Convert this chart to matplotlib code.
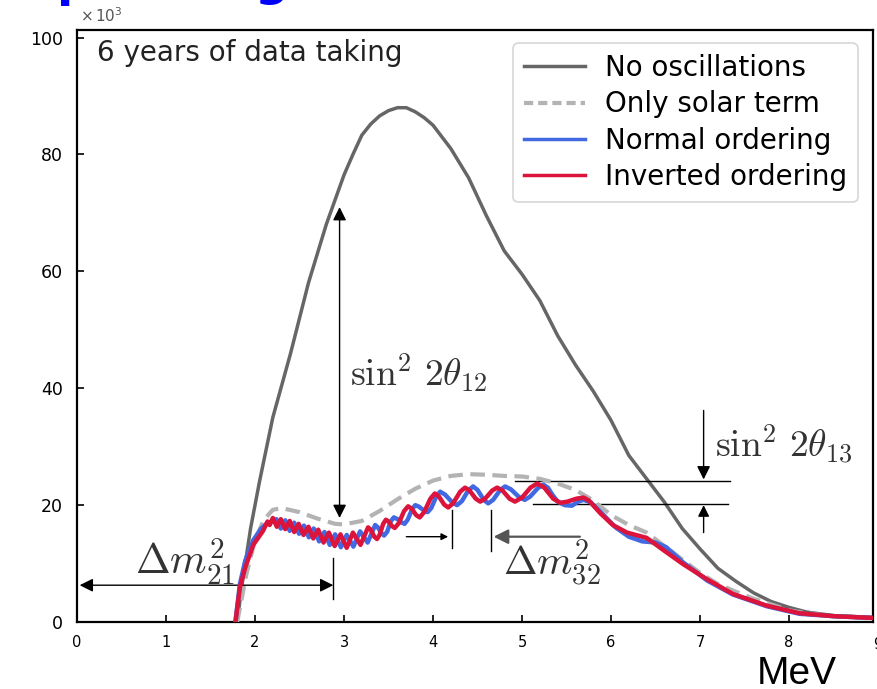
import matplotlib
matplotlib.use("Agg")
import matplotlib.pyplot as plt
from matplotlib.lines import Line2D

# reactor antineutrino spectrum, counts in units of 10^3 per energy bin
energy_noosc = [1.80, 1.85, 1.95, 2.05, 2.2, 2.4, 2.6, 2.8, 3.0, 3.1, 3.2, 3.3, 3.4, 3.5,
                3.6, 3.7, 3.8, 3.9, 4.0, 4.2, 4.4, 4.6, 4.8, 5.0, 5.2, 5.4, 5.6, 5.8,
                6.0, 6.2, 6.4, 6.6, 6.8, 7.0, 7.2, 7.4, 7.6, 7.8, 8.0, 8.2, 8.5, 8.94]
counts_noosc = [0.0, 6.0, 16.0, 24.0, 35.0, 46.0, 58.0, 68.0, 76.5, 80.0, 83.3, 85.2, 86.6, 87.5,
                88.0, 88.0, 87.3, 86.3, 85.0, 81.0, 76.0, 69.5, 63.5, 59.5, 55.0, 49.0, 44.0, 39.5,
                34.5, 28.5, 24.5, 20.5, 16.0, 12.5, 9.2, 7.0, 5.0, 3.5, 2.5, 1.7, 1.1, 0.8]

energy_solar = [1.80, 1.90, 2.0, 2.1, 2.2, 2.3, 2.5, 2.7, 2.9, 3.0, 3.2, 3.4, 3.6, 3.8,
                4.0, 4.2, 4.4, 4.6, 4.8, 5.0, 5.2, 5.4, 5.6, 5.8, 6.0, 6.2, 6.4, 6.6,
                6.8, 7.0, 7.2, 7.4, 7.6, 7.8, 8.0, 8.2, 8.5, 8.94]
counts_solar = [0.0, 8.0, 14.0, 17.5, 19.2, 19.5, 18.8, 17.7, 16.8, 16.7, 17.3, 19.0, 21.0, 22.8,
                24.2, 25.0, 25.3, 25.2, 25.0, 24.9, 24.5, 23.7, 22.6, 20.8, 18.3, 16.6, 15.3, 13.0,
                10.7, 8.4, 6.5, 5.2, 4.0, 3.0, 2.0, 1.5, 1.0, 0.6]

energy_normal = [1.78, 1.83, 1.89, 1.98, 2.07, 2.13, 2.19,
                 2.24, 2.29, 2.34, 2.39, 2.44, 2.495, 2.55, 2.605, 2.66, 2.72,
                 2.78, 2.84, 2.90, 2.965, 3.03, 3.105, 3.18, 3.265, 3.35, 3.38, 3.42,
                 3.45, 3.485, 3.525, 3.56, 3.595, 3.645, 3.68, 3.715, 3.765, 3.80, 3.84,
                 3.90, 3.94, 3.98, 4.04, 4.08, 4.135, 4.215, 4.27, 4.325, 4.395, 4.45,
                 4.50, 4.57, 4.62, 4.675, 4.755, 4.81, 4.875, 4.965, 5.03, 5.09, 5.18,
                 5.24, 5.29, 5.34, 5.40, 5.48, 5.56, 5.63, 5.69, 5.77, 5.91, 6.05, 6.2,
                 6.35, 6.5, 6.62, 6.81, 7.08, 7.37, 7.75, 8.12, 8.5, 8.94]
counts_normal = [0.0, 6.5, 10.5, 14.0, 16.0, 16.8, 17.2,
                 17.6, 16.0, 17.4, 15.6, 17.0, 15.1, 16.5, 14.5, 16.0, 13.8,
                 15.4, 13.2, 15.0, 12.8, 14.9, 12.9, 15.5, 13.6, 16.6, 16.2, 15.2,
                 14.8, 15.45, 17.25, 17.9, 17.65, 17.05, 16.8, 17.5, 19.3, 20.0, 19.75,
                 19.05, 18.8, 19.5, 21.6, 22.3, 21.8, 20.5, 20.0, 20.7, 22.5, 23.2,
                 22.6, 20.9, 20.3, 20.9, 22.6, 23.2, 22.7, 21.4, 20.9, 21.45, 22.95,
                 23.5, 23.0, 21.8, 20.6, 20.0, 19.9, 20.6, 20.9, 20.5, 18.4, 16.2, 14.6,
                 13.8, 13.6, 12.8, 10.2, 7.1, 4.7, 2.7, 1.4, 1.0, 0.7]

energy_inverted = [1.78, 1.83, 1.89, 1.98, 2.09, 2.14, 2.165,
                   2.20, 2.245, 2.29, 2.34, 2.39, 2.44, 2.49, 2.545, 2.60, 2.655,
                   2.71, 2.77, 2.83, 2.895, 2.96, 3.03, 3.10, 3.185, 3.27, 3.30, 3.34,
                   3.37, 3.40, 3.44, 3.47, 3.50, 3.54, 3.57, 3.615, 3.675, 3.72, 3.76,
                   3.81, 3.85, 3.90, 3.97, 4.02, 4.065, 4.125, 4.17, 4.225, 4.305, 4.36,
                   4.41, 4.48, 4.53, 4.585, 4.665, 4.72, 4.78, 4.86, 4.92, 5.00, 5.095,
                   5.17, 5.25, 5.35, 5.43, 5.51, 5.61, 5.69, 5.75, 5.88, 6.02, 6.18,
                   6.4, 6.58, 6.81, 7.08, 7.37, 7.75, 8.12, 8.5, 8.94]
counts_inverted = [0.0, 5.9, 9.3, 13.2, 15.6, 17.2, 16.6,
                   17.8, 16.3, 17.6, 15.9, 17.3, 15.4, 16.8, 14.9, 16.3, 14.3,
                   15.8, 13.6, 15.3, 13.0, 15.0, 12.7, 15.3, 13.2, 16.2, 15.8, 14.6,
                   14.2, 14.9, 16.8, 17.5, 17.2, 16.4, 16.1, 16.9, 19.0, 19.8, 19.4,
                   18.3, 17.9, 18.8, 21.1, 22.0, 21.5, 20.1, 19.6, 20.3, 22.3, 23.0,
                   22.5, 21.1, 20.6, 21.1, 22.5, 23.0, 22.5, 21.1, 20.6, 21.3, 23.0,
                   23.7, 23.0, 21.1, 20.4, 20.6, 21.1, 21.3, 20.8, 18.6, 16.6, 15.3,
                   14.4, 12.4, 9.9, 7.3, 4.8, 2.8, 1.5, 1.0, 0.7]

x_ticks = [0, 1, 2, 3, 4, 5, 6, 7, 8]
y_ticks = [0, 20, 40, 60, 80, 100]

plt.rcParams["mathtext.fontset"] = "cm"
plt.rcParams["font.family"] = "DejaVu Sans"

fig = plt.figure(figsize=(8.78, 6.89), dpi=100)
ax = fig.add_axes([0.0877, 0.0972, 0.9063, 0.8593])

c_noosc = "#666666"
c_solar = "#b3b3b3"
c_normal = "#4169e1"
c_inverted = "#dc143c"

ax.plot(energy_noosc, counts_noosc, color=c_noosc, lw=2.5, zorder=2)
ax.plot(energy_solar, counts_solar, color=c_solar, lw=3, dashes=(3.5, 1.8), zorder=3)
ax.plot(energy_normal, counts_normal, color=c_normal, lw=3.2, zorder=4,
        solid_joinstyle="round")
ax.plot(energy_inverted, counts_inverted, color=c_inverted, lw=3.2, zorder=5,
        solid_joinstyle="round")

ax.set_xlim(0, 8.94)
ax.set_ylim(0, 101.3)
ax.set_xticks(x_ticks)
ax.set_yticks(y_ticks)
ax.tick_params(direction="in", length=5, width=1.2, top=False, right=False)
ax.tick_params(axis="x", labelsize=10.5, pad=9)
ax.tick_params(axis="y", labelsize=12.5, pad=10)
for sp in ax.spines.values():
    sp.set_linewidth(1.6)
ax.text(9, -0.025, "9", transform=ax.get_xaxis_transform(), ha="center", va="top",
        fontsize=10.5, clip_on=False)

# offset label and unit
ax.text(0.004, 1.008, r"$\times\,10^{3}$", transform=ax.transAxes, fontsize=11,
        color="#555555", ha="left", va="bottom", math_fontfamily="dejavusans")
fig.text(0.908, 5 / 689, "MeV", fontsize=28, ha="center", va="baseline",
         family="Liberation Sans")

ax.text(0.025, 0.961, "6 years of data taking", transform=ax.transAxes,
        fontsize=20, color="#222222", ha="left", va="center")

handles = [Line2D([], [], color=c_noosc, lw=2.5),
           Line2D([], [], color=c_solar, lw=3, dashes=(2.2, 1.2)),
           Line2D([], [], color=c_normal, lw=2.5),
           Line2D([], [], color=c_inverted, lw=2.5)]
labels = ["No oscillations", "Only solar term", "Normal ordering", "Inverted ordering"]
leg = ax.legend(handles, labels, loc="upper right", bbox_to_anchor=(0.9815, 0.978),
                borderaxespad=0, fontsize=20, handlelength=2.2, handletextpad=0.7,
                labelspacing=0.3, frameon=True, fancybox=True, borderpad=0.4)
leg.get_frame().set_edgecolor("#cccccc")
leg.get_frame().set_linewidth(1.2)

txt_c = "#333333"
head = dict(color="black", lw=1.0, shrinkA=0, shrinkB=0)

# delta m^2_21
ax.annotate("", xy=(0.03, 6.3), xytext=(2.88, 6.3),
            arrowprops=dict(arrowstyle="<|-|>", mutation_scale=20, **head))
ax.plot([2.88, 2.88], [4.0, 11.0], color="black", lw=1.0)
ax.text(1.22, 10.3, r"$\Delta m^2_{21}$", fontsize=30, color=txt_c,
        ha="center", va="center")

# sin^2 2theta_12
ax.annotate("", xy=(2.95, 71.0), xytext=(2.95, 17.8),
            arrowprops=dict(arrowstyle="<|-|>", mutation_scale=20, **head))
ax.text(3.07, 42.5, r"$\sin^2\,2\theta_{12}$", fontsize=27, color=txt_c,
        ha="left", va="center")

# sin^2 2theta_13
ax.plot([4.92, 7.34], [24.2, 24.2], color="black", lw=1.0)
ax.plot([5.12, 7.31], [20.2, 20.2], color="black", lw=1.0)
ax.annotate("", xy=(7.04, 24.4), xytext=(7.04, 36.2),
            arrowprops=dict(arrowstyle="-|>", mutation_scale=20, **head))
ax.annotate("", xy=(7.04, 20.0), xytext=(7.04, 15.3),
            arrowprops=dict(arrowstyle="-|>", mutation_scale=17, **head))
ax.text(7.17, 30.3, r"$\sin^2\,2\theta_{13}$", fontsize=27, color=txt_c,
        ha="left", va="center")

# delta m^2_32
ax.plot([4.21, 4.21], [12.7, 19.2], color="black", lw=1.0)
ax.plot([4.65, 4.65], [12.2, 19.2], color="black", lw=1.0)
ax.annotate("", xy=(4.17, 14.6), xytext=(3.70, 14.6),
            arrowprops=dict(arrowstyle="-|>", mutation_scale=10, **head))
ax.annotate("", xy=(4.68, 14.6), xytext=(5.65, 14.6),
            arrowprops=dict(arrowstyle="-|>", mutation_scale=22, color="#555555",
                            lw=1.6, shrinkA=0, shrinkB=0))
ax.text(5.34, 10.0, r"$\Delta m^2_{32}$", fontsize=29, color=txt_c,
        ha="center", va="center")

# bits of the slide title cut by the top edge
fig.text(57 / 878, 1.0055, "p", fontsize=34, color="#0000ff", weight="bold",
         ha="left", va="baseline")
fig.text(272 / 878, 1.0075, "g", fontsize=34, color="#0000ff", weight="bold",
         ha="center", va="baseline")

fig.savefig("out.png", dpi=100)
